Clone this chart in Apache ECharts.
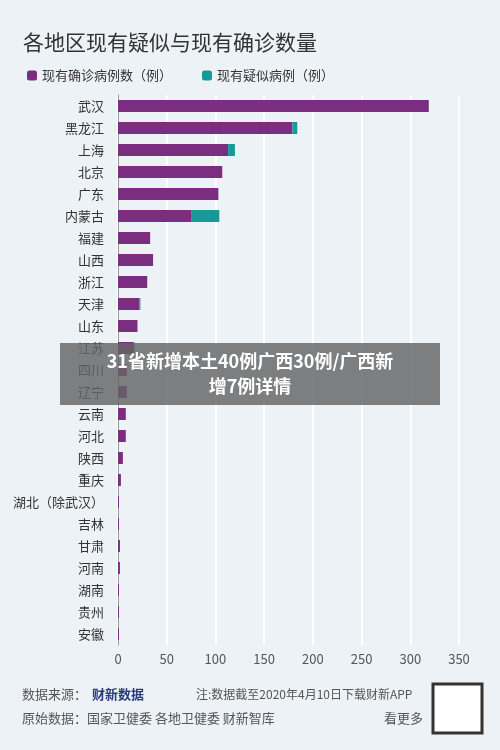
<!DOCTYPE html><html><head><meta charset="utf-8"><script src="https://cdn.jsdelivr.net/npm/echarts@6/dist/echarts.min.js"></script>
<style>html,body{margin:0;background:#edf2f6}#c{width:500px;height:750px}</style></head><body><div id="c"></div><script>
const categories=['武汉','黑龙江','上海','北京','广东','内蒙古','福建','山西','浙江','天津','山东','江苏','四川','辽宁','云南','河北','陕西','重庆','湖北（除武汉）','吉林','甘肃','河南','湖南','贵州','安徽'];
const confirmed=[319,179,113,107,103,75,33,36,30,22,20,16,9,9,8,8,5,3,1,1,2,2,1,1,1];
const suspected=[0,5,7,0,0,29,0,0,0,1,0,1,0,0,0,0,0,0,0,0,0,0,0,0,0];
const xTicks=[0,50,100,150,200,250,300,350];
const F='"Noto Sans CJK SC",sans-serif';
const ch=echarts.init(document.getElementById('c'));
ch.setOption({backgroundColor:'#edf2f6',animation:false,
title:{text:'各地区现有疑似与现有确诊数量',left:18,top:27,textStyle:{fontFamily:F,fontSize:21,fontWeight:'normal',color:'#333'}},
legend:{left:22,top:64,itemWidth:10,itemHeight:10,itemGap:30,textStyle:{fontFamily:F,fontSize:13,color:'#333'},data:['现有确诊病例数（例）','现有疑似病例（例）']},
grid:{left:118,right:41,top:95,bottom:105},
xAxis:{type:'value',min:0,max:350,interval:50,axisLine:{show:false},axisTick:{show:false},splitLine:{lineStyle:{color:'#fff',width:2}},axisLabel:{fontFamily:F,fontSize:13,color:'#555',formatter:v=>xTicks.includes(v)?String(v):''}},
yAxis:{type:'category',inverse:true,data:categories,axisLine:{lineStyle:{color:'#999'}},axisTick:{lineStyle:{color:'#999'}},axisLabel:{fontFamily:F,fontSize:13,color:'#333',margin:14}},
series:[{name:'现有确诊病例数（例）',type:'bar',stack:'a',barWidth:12,data:confirmed,itemStyle:{color:'#7b2d80'}},
{name:'现有疑似病例（例）',type:'bar',stack:'a',barWidth:12,data:suspected,itemStyle:{color:'#17999a'}}],
graphic:[
{type:'rect',z:100,shape:{x:60,y:343,width:380,height:62},style:{fill:'rgba(100,100,100,0.82)'}},
{type:'text',z:101,left:'center',top:349,style:{text:'31省新增本土40例广西30例/广西新\n增7例详情',fill:'#fff',font:'bold 18px '+F,textAlign:'center',lineHeight:25}},
{type:'text',left:22,top:688,style:{text:'数据来源：',fill:'#555',font:'13px '+F}},
{type:'text',left:92,top:688,style:{text:'财新数据',fill:'#2a3a7a',font:'bold 13px '+F}},
{type:'text',left:196,top:688,style:{text:'注:数据截至2020年4月10日下载财新APP',fill:'#555',font:'12px '+F}},
{type:'text',left:22,top:712,style:{text:'原始数据：国家卫健委 各地卫健委 财新智库',fill:'#555',font:'13px '+F}},
{type:'text',left:384,top:712,style:{text:'看更多',fill:'#555',font:'13px '+F}},
{type:'rect',shape:{x:433,y:684,width:49,height:49},style:{fill:'#fff',stroke:'#333',lineWidth:3}}
]});
</script></body></html>
